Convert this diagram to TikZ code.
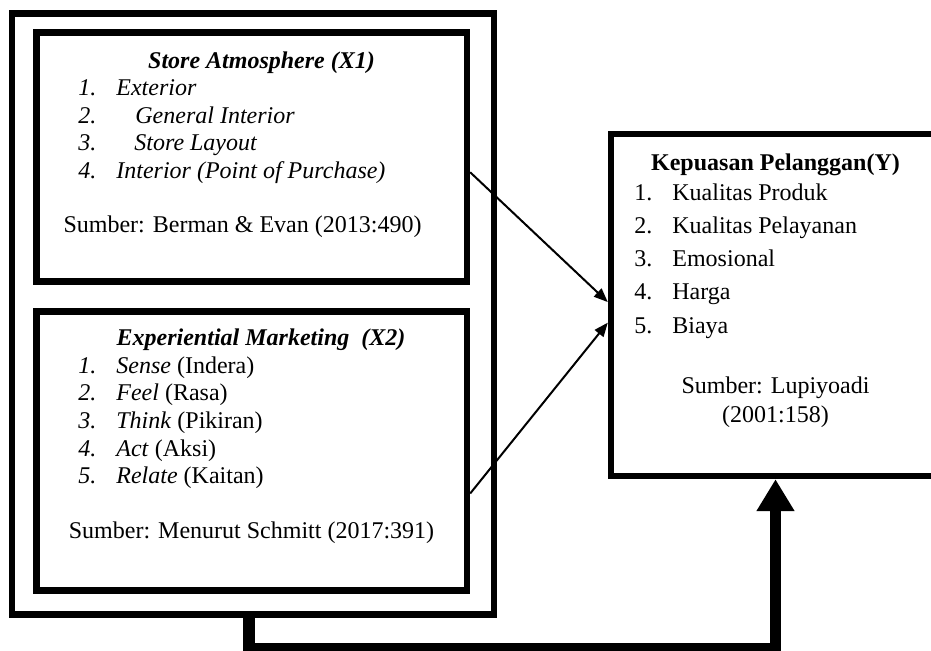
\documentclass[12pt,tikz,border=0pt]{standalone}
\usepackage{fontspec}
\setmainfont{Liberation Serif}
\usetikzlibrary{arrows.meta}

\begin{document}
\begin{tikzpicture}[x=0.5pt, y=-0.5pt,
  box/.style={draw, rectangle, line width=3.2pt, inner sep=0pt},
  txt/.style={anchor=base west, inner sep=0pt},
  ctr/.style={anchor=base, inner sep=0pt},
  thinarrow/.style={line width=1pt, -{Triangle[length=7pt,width=5.5pt]}},
  thickarrow/.style={line width=5.8pt, line join=miter, -{Triangle[length=16pt,width=18pt]}}]

\useasboundingbox (0,0) rectangle (931,650);
\clip (0,0) rectangle (931,650);

% frames
\node[box, minimum width=241pt,    minimum height=300.5pt] (VAR_X)  at (253,314)    {};
\node[box, minimum width=215.25pt, minimum height=124.5pt] (BOX_X1) at (251.75,157) {};
\node[box, minimum width=215.25pt, minimum height=139.5pt] (BOX_X2) at (251.75,451) {};
\node[box, minimum width=164.5pt,  minimum height=171pt]   (BOX_Y)  at (775.5,305)  {};

% store atmosphere
\begin{scope}[font=\itshape]
  \node[ctr, font=\bfseries\itshape] (X1_T) at (261.5,68) {Store Atmosphere (X1)};
  \node[txt] (X1_N1) at ( 78, 95) {1.};
  \node[txt] (X1_L1) at (116, 95) {Exterior};
  \node[txt] (X1_N2) at ( 78,123) {2.};
  \node[txt] (X1_L2) at (135,123) {General Interior};
  \node[txt] (X1_N3) at ( 78,150) {3.};
  \node[txt] (X1_L3) at (134,150) {Store Layout};
  \node[txt] (X1_N4) at ( 78,178) {4.};
  \node[txt] (X1_L4) at (116,178) {Interior (Point of Purchase)};
\end{scope}
\node[ctr] (X1_S) at (242.5,232) {Sumber: Berman \& Evan (2013:490)};

% experiential marketing
\node[ctr, font=\bfseries\itshape] (X2_T) at (261,345) {Experiential Marketing\ \ (X2)};
\begin{scope}[txt]
  \node (X2_N1) at ( 78,373) {\textit{1.}};
  \node (X2_L1) at (116,373) {\textit{Sense} (Indera)};
  \node (X2_N2) at ( 78,400) {\textit{2.}};
  \node (X2_L2) at (116,400) {\textit{Feel} (Rasa)};
  \node (X2_N3) at ( 78,428) {\textit{3.}};
  \node (X2_L3) at (116,428) {\textit{Think} (Pikiran)};
  \node (X2_N4) at ( 78,456) {\textit{4.}};
  \node (X2_L4) at (116,456) {\textit{Act} (Aksi)};
  \node (X2_N5) at ( 78,483) {\textit{5.}};
  \node (X2_L5) at (116,483) {\textit{Relate} (Kaitan)};
\end{scope}
\node[ctr] (X2_S) at (251.5,538) {Sumber: Menurut Schmitt (2017:391)};

% kepuasan pelanggan
\node[ctr, font=\bfseries] (Y_T) at (775.5,170) {Kepuasan Pelanggan(Y)};
\begin{scope}[txt]
  \node (Y_N1) at (634,200) {1.};
  \node (Y_L1) at (672,200) {Kualitas Produk};
  \node (Y_N2) at (634,233) {2.};
  \node (Y_L2) at (672,233) {Kualitas Pelayanan};
  \node (Y_N3) at (634,266) {3.};
  \node (Y_L3) at (672,266) {Emosional};
  \node (Y_N4) at (634,299) {4.};
  \node (Y_L4) at (672,299) {Harga};
  \node (Y_N5) at (634,333) {5.};
  \node (Y_L5) at (672,333) {Biaya};
\end{scope}
\node[ctr] (Y_S1) at (775.5,393) {Sumber: Lupiyoadi};
\node[ctr] (Y_S2) at (775.5,422) {(2001:158)};

% arrows
\draw[thinarrow] (BOX_X1.-4)  -- (BOX_Y.179);
\draw[thinarrow] (BOX_X2.-11) -- (BOX_Y.186);
\draw[thickarrow] ([xshift=-2pt]VAR_X.south) -- ++(0,-15.5pt) -| (BOX_Y.south);

\end{tikzpicture}
\end{document}
